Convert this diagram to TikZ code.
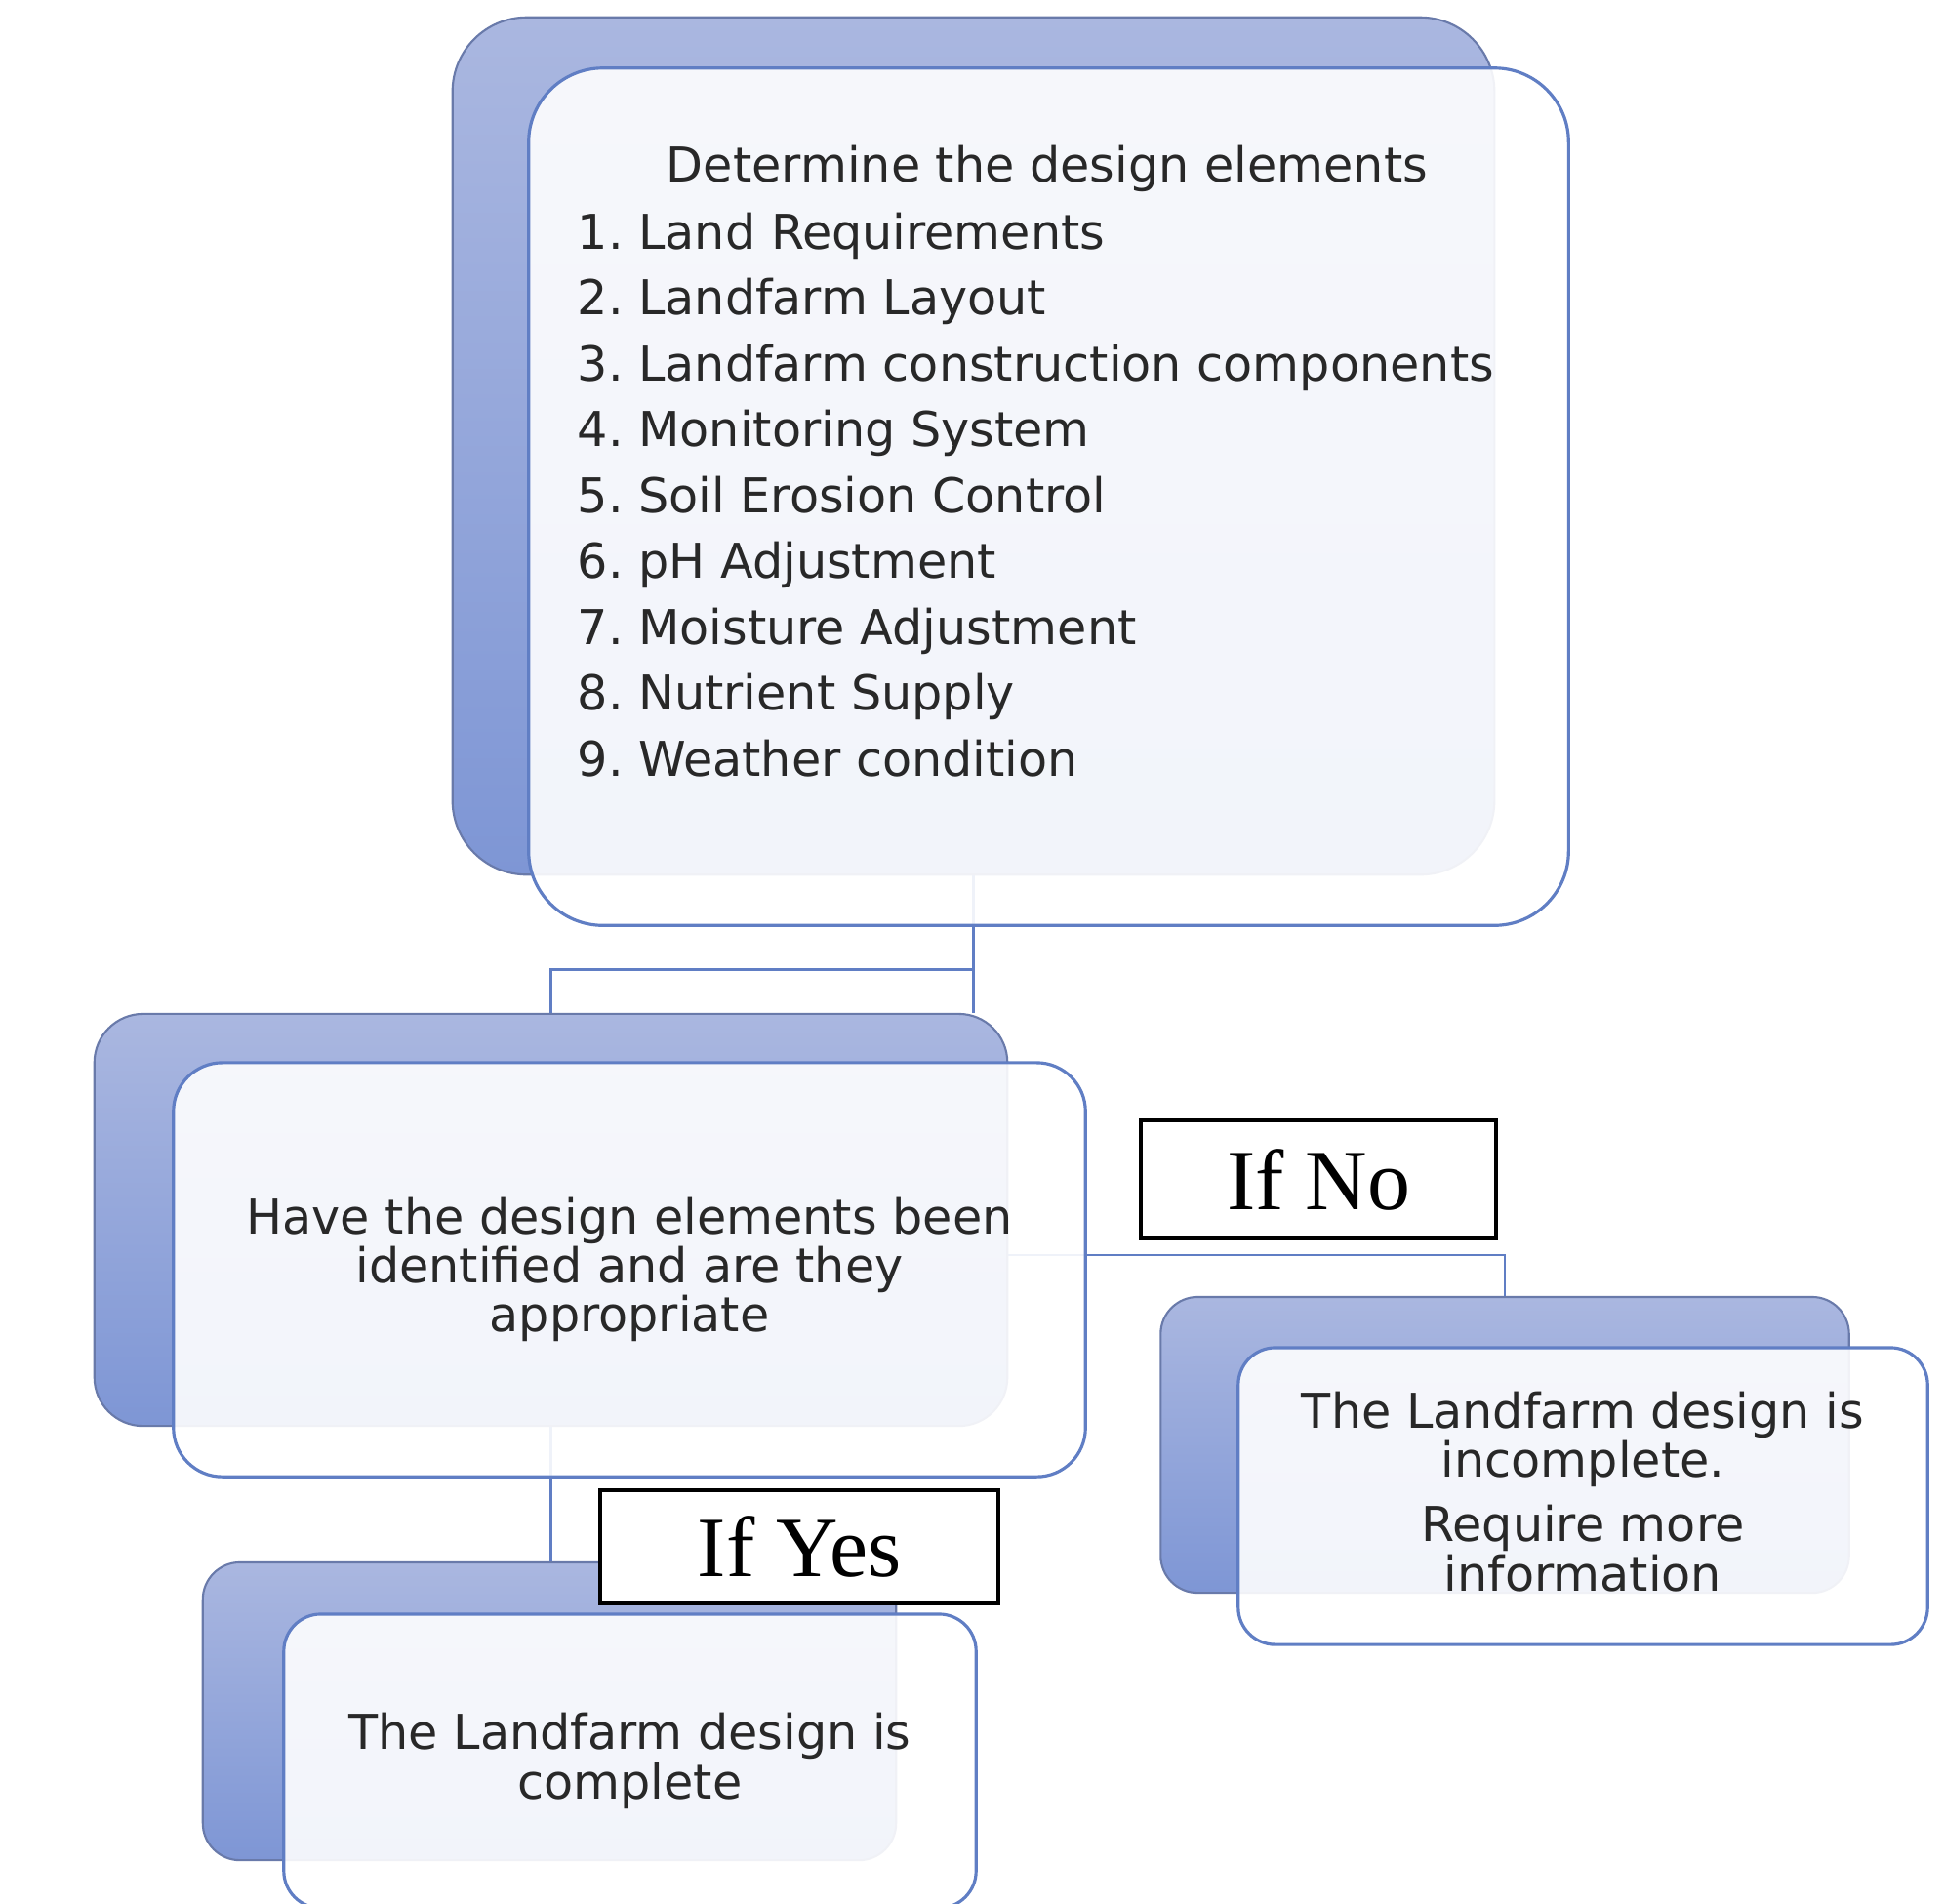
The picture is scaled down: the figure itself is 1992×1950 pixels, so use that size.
\documentclass[tikz,border=0pt]{standalone}
\usepackage{fontspec}
\setmainfont{DejaVu Sans}
\newfontfamily\labelfont{Liberation Serif}
\usetikzlibrary{positioning}
\definecolor{backtop}{RGB}{170,183,224}
\definecolor{backbot}{RGB}{126,150,213}
\definecolor{backline}{RGB}{105,122,170}
\definecolor{frontline}{RGB}{96,126,196}
\definecolor{textgray}{RGB}{40,40,40}
\tikzset{
  backbox/.style={draw=backline,line width=0.6pt,top color=backtop,bottom color=backbot,inner sep=0pt},
  frontbox/.style={draw=frontline,line width=0.9pt,fill=white,fill opacity=0.9,text opacity=1,
    inner sep=0pt,text=textgray,align=center,font=\fontsize{14}{14.3}\selectfont},
  ifbox/.style={draw=black,line width=1pt,fill=white,inner sep=0pt,font=\labelfont\fontsize{25}{28}\selectfont},
  link/.style={draw=frontline,line width=0.8pt},
  listtext/.style={text=textgray,inner sep=0pt,text height=10pt,text depth=3pt,font=\fontsize{14}{16}\selectfont}
}
\begin{document}
\begin{tikzpicture}[x=0.01cm,y=-0.01cm]
    \fill[white] (0,0) rectangle (1992,1950);
    \useasboundingbox (0,0) rectangle (1992,1950);
    % back boxes
    \node[backbox,rounded corners=0.76cm,minimum width=10.67cm,minimum height=8.78cm] (topback) at (997.5,457) {};
    \node[backbox,rounded corners=0.5cm,minimum width=9.35cm,minimum height=4.22cm] (midback) at (564.5,1250) {};
    \node[backbox,rounded corners=0.38cm,minimum width=7.05cm,minimum height=3.03cm] (rightback) at (1542,1480.5) {};
    \node[backbox,rounded corners=0.38cm,minimum width=7.10cm,minimum height=3.05cm] (botback) at (563,1753.5) {};
    % connectors
    \coordinate (fork) at ([yshift=-0.96cm]topback.south);
    \coordinate (nofork) at ([yshift=-0.36cm]midback.east);
    \draw[link] (topback.south) -- (topback.south |- midback.north);
    \draw[link] (fork) -| (midback.north);
    \draw[link] (nofork) -| (rightback.north);
    \draw[link] (midback.south) -- (midback.south |- botback.north);
    % front boxes
    \node[frontbox,rounded corners=0.76cm,minimum width=10.65cm,minimum height=8.78cm] (topfront) at (1074.5,509) {};
    \node[frontbox,rounded corners=0.5cm,minimum width=9.34cm,minimum height=4.24cm] (midfront) at (645,1301)
      {Have the design elements been\\ identified and are they\\ appropriate};
    \node[frontbox,rounded corners=0.38cm,minimum width=7.06cm,minimum height=3.04cm] (rightfront) at (1622,1533)
      {The Landfarm design is\\ incomplete.\\[4.5pt] Require more\\ information\\[-11.5pt]\mbox{}};
    \node[frontbox,rounded corners=0.38cm,minimum width=7.09cm,minimum height=3.01cm] (botfront) at (645.5,1804.5)
      {The Landfarm design is\\ complete};
    % list in the top box
    \node[listtext] (title) at (1073,174) {Determine the design elements};
    \foreach \t [count=\i] in {Land Requirements,Landfarm Layout,Landfarm construction components,
        Monitoring System,Soil Erosion Control,pH Adjustment,Moisture Adjustment,Nutrient Supply,Weather condition}
      \node[listtext,anchor=west] (item\i) at (591,{243+67.5*(\i-1)}) {\i.\ \t};
    % decision labels
    \node[ifbox,minimum width=3.64cm,minimum height=1.21cm] (ifno) at (1351,1208.5) {If No};
    \node[ifbox,minimum width=4.08cm,minimum height=1.16cm] (ifyes) at (819,1585) {If Yes};
\end{tikzpicture}
\end{document}
